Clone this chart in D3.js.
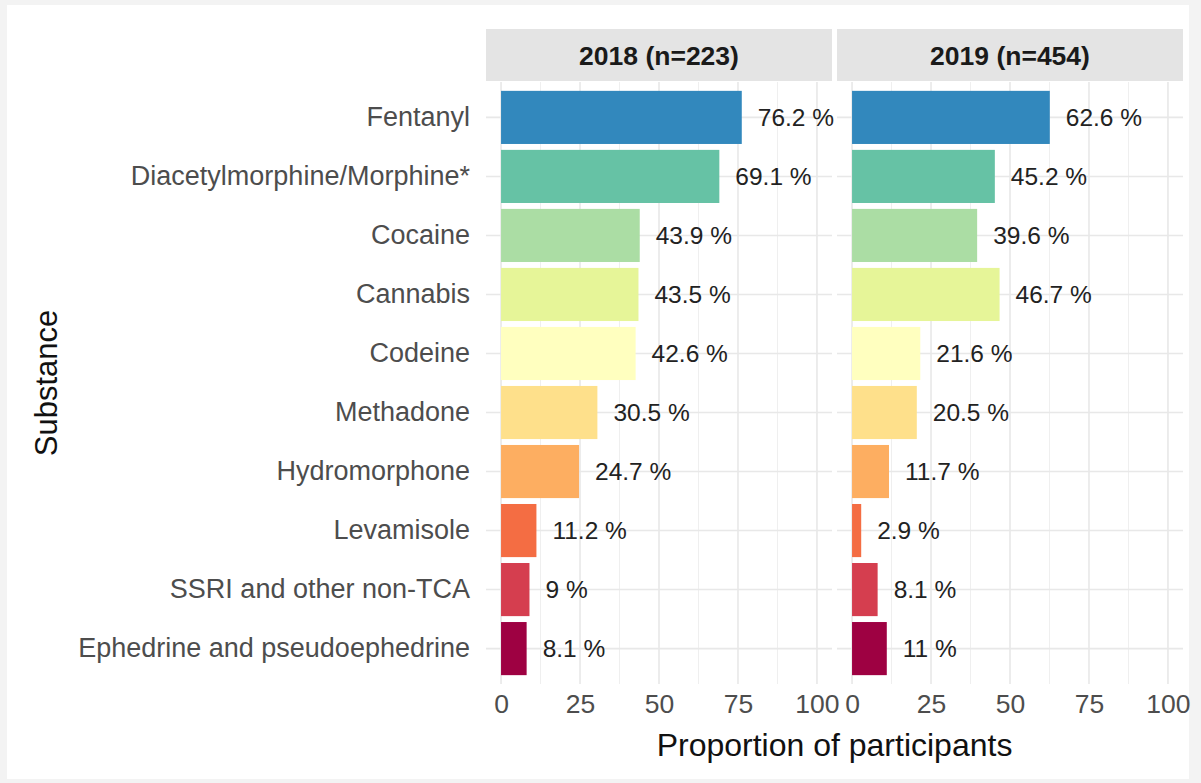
<!DOCTYPE html>
<html>
<head>
<meta charset="utf-8">
<script src="https://cdn.jsdelivr.net/npm/d3@7"></script>
<style>
    body { margin: 0; background: #f3f3f3; }
    svg { display: block; font-family: "Liberation Sans", Arial, sans-serif; }
</style>
</head>
<body>
<div id="chart"></div>
<script>
const substances = [
    "Fentanyl",
    "Diacetylmorphine/Morphine*",
    "Cocaine",
    "Cannabis",
    "Codeine",
    "Methadone",
    "Hydromorphone",
    "Levamisole",
    "SSRI and other non-TCA",
    "Ephedrine and pseudoephedrine"
];
const values2018 = [76.2, 69.1, 43.9, 43.5, 42.6, 30.5, 24.7, 11.2, 9, 8.1];
const values2019 = [62.6, 45.2, 39.6, 46.7, 21.6, 20.5, 11.7, 2.9, 8.1, 11];
const facetTitles = ["2018 (n=223)", "2019 (n=454)"];
const xTicks = [0, 25, 50, 75, 100];
const xMinor = [12.5, 37.5, 62.5, 87.5];
const colors = ["#3288BD", "#66C2A5", "#ABDDA4", "#E6F598", "#FFFFBF",
                "#FEE08B", "#FDAE61", "#F46D43", "#D53E4F", "#9E0142"];

const width = 1201, height = 783;
const panelTop = 82, panelBottom = 684, stripTop = 29;
const panelLefts = [486, 837], panelWidth = 346;

const svg = d3.select("#chart").append("svg")
    .attr("width", width)
    .attr("height", height);

svg.append("rect")
    .attr("x", 7).attr("y", 5)
    .attr("width", 1182).attr("height", 774)
    .attr("fill", "white");

const y = d3.scaleBand()
    .domain(substances)
    .range([panelTop, panelBottom])
    .paddingInner(0.1)
    .paddingOuter(0.15);

const color = d3.scaleOrdinal().domain(substances).range(colors);

const facets = [values2018, values2019].map((vals, i) => ({
    title: facetTitles[i],
    rows: substances.map((s, j) => ({ name: s, value: vals[j] }))
}));

facets.forEach((f, i) => {
    const x0 = panelLefts[i];
    const x = d3.scaleLinear().domain([-4.76, 104.76]).range([x0, x0 + panelWidth]);
    const g = svg.append("g");

    // strip
    g.append("rect")
        .attr("x", x0).attr("y", stripTop)
        .attr("width", panelWidth).attr("height", panelTop - stripTop - 1)
        .attr("fill", "#e4e4e4");
    g.append("text")
        .attr("x", x0 + panelWidth / 2)
        .attr("y", (stripTop + panelTop) / 2)
        .attr("dy", "0.35em")
        .attr("text-anchor", "middle")
        .attr("font-weight", "bold")
        .attr("font-size", 26.5)
        .attr("fill", "#1a1a1a")
        .text(f.title);

    // grid
    g.append("g").selectAll("line")
        .data(xMinor)
        .join("line")
        .attr("x1", d => x(d)).attr("x2", d => x(d))
        .attr("y1", panelTop).attr("y2", panelBottom)
        .attr("stroke", "#efefef").attr("stroke-width", 1);
    g.append("g").selectAll("line")
        .data(xTicks)
        .join("line")
        .attr("x1", d => x(d)).attr("x2", d => x(d))
        .attr("y1", panelTop).attr("y2", panelBottom)
        .attr("stroke", "#e8e8e8").attr("stroke-width", 1.6);
    g.append("g").selectAll("line")
        .data(substances)
        .join("line")
        .attr("x1", x0).attr("x2", x0 + panelWidth)
        .attr("y1", d => y(d) + y.bandwidth() / 2)
        .attr("y2", d => y(d) + y.bandwidth() / 2)
        .attr("stroke", "#e8e8e8").attr("stroke-width", 1.6);

    // bars
    g.append("g").selectAll("rect")
        .data(f.rows)
        .join("rect")
        .attr("x", x(0))
        .attr("y", d => y(d.name))
        .attr("width", d => x(d.value) - x(0))
        .attr("height", y.bandwidth())
        .attr("fill", d => color(d.name));

    // value labels
    g.append("g").selectAll("text")
        .data(f.rows)
        .join("text")
        .attr("x", d => x(d.value) + 16)
        .attr("y", d => y(d.name) + y.bandwidth() / 2)
        .attr("dy", "0.35em")
        .attr("font-size", 24.5)
        .attr("fill", "#222")
        .text(d => `${d.value} %`);

    // x axis
    const ax = g.append("g")
        .attr("transform", `translate(0,${panelBottom + 10})`)
        .call(d3.axisBottom(x).tickValues(xTicks).tickSize(0).tickPadding(0));
    ax.select(".domain").remove();
    ax.selectAll("text")
        .attr("dy", "0.71em")
        .attr("font-size", 26.5)
        .attr("font-family", "Liberation Sans, Arial, sans-serif")
        .attr("fill", "#4d4d4d");
});

// y axis
const ay = svg.append("g")
    .attr("transform", `translate(${panelLefts[0] - 16},0)`)
    .call(d3.axisLeft(y).tickSize(0).tickPadding(0));
ay.select(".domain").remove();
ay.selectAll("text")
    .attr("font-size", 27)
    .attr("font-family", "Liberation Sans, Arial, sans-serif")
    .attr("fill", "#4d4d4d");

// axis titles
svg.append("text")
    .attr("x", (panelLefts[0] + panelLefts[1] + panelWidth) / 2)
    .attr("y", 756)
    .attr("text-anchor", "middle")
    .attr("font-size", 32)
    .attr("fill", "#111")
    .text("Proportion of participants");

svg.append("text")
    .attr("transform", `translate(57,${(panelTop + panelBottom) / 2}) rotate(-90)`)
    .attr("text-anchor", "middle")
    .attr("font-size", 31)
    .attr("fill", "#111")
    .text("Substance");
</script>
</body>
</html>
